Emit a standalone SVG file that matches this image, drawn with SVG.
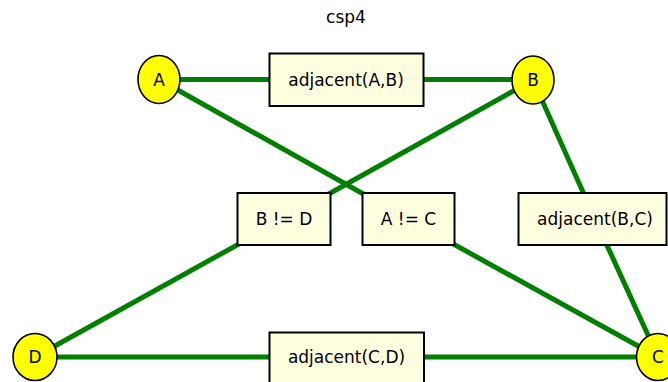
<svg xmlns="http://www.w3.org/2000/svg" width="668" height="382" viewBox="0 0 668 382">
<style>
text{font-family:"DejaVu Sans","Liberation Sans",sans-serif;font-size:17px;fill:#000;text-anchor:middle}
.e{stroke:#008000;stroke-width:5;fill:none}
.v{fill:#ffff00;stroke:#000;stroke-width:1.6}
.c{fill:#ffffe0;stroke:#000;stroke-width:2}
</style>
<rect width="668" height="382" fill="#fff"/>
<text x="346" y="23">csp4</text>
<g id="connectors">
<line class="e" x1="159" y1="79.5" x2="346" y2="79.5"/>
<line class="e" x1="346" y1="79.5" x2="533" y2="79.5"/>
<line class="e" x1="159" y1="79.5" x2="408" y2="219"/>
<line class="e" x1="533" y1="80" x2="284" y2="219"/>
<line class="e" x1="533" y1="80" x2="595" y2="219"/>
<line class="e" x1="284" y1="219" x2="35" y2="357"/>
<line class="e" x1="408" y1="219" x2="658" y2="357"/>
<line class="e" x1="595" y1="219" x2="658" y2="357"/>
<line class="e" x1="35" y1="357" x2="346" y2="357"/>
<line class="e" x1="346" y1="357" x2="658" y2="357"/>
</g>
<g id="A"><ellipse class="v" cx="159" cy="79.5" rx="21" ry="24"/><text x="159" y="85.5">A</text></g>
<g id="B"><ellipse class="v" cx="533" cy="80" rx="21" ry="24"/><text x="533" y="86">B</text></g>
<g id="C"><ellipse class="v" cx="658" cy="357" rx="21.5" ry="23.5"/><text x="658" y="363">C</text></g>
<g id="D"><ellipse class="v" cx="35" cy="357" rx="22" ry="23.5"/><text x="35" y="363">D</text></g>
<g id="adjAB"><rect class="c" x="269.5" y="53.5" width="154" height="52.5"/><text x="346" y="85.5">adjacent(A,B)</text></g>
<g id="BneD"><rect class="c" x="237.5" y="193" width="93" height="52"/><text x="284" y="225">B != D</text></g>
<g id="AneC"><rect class="c" x="362.5" y="193" width="92" height="52"/><text x="408.5" y="225">A != C</text></g>
<g id="adjBC"><rect class="c" x="518.5" y="193" width="148" height="52"/><text x="595" y="225">adjacent(B,C)</text></g>
<g id="adjCD"><rect class="c" x="269.5" y="332.5" width="154.5" height="53"/><text x="346.5" y="363">adjacent(C,D)</text></g>
</svg>
